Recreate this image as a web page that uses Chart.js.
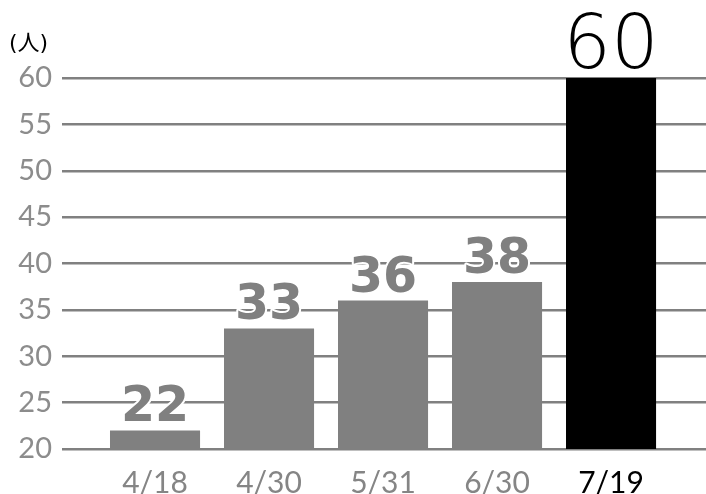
<!DOCTYPE html>
<html>
<head>
<meta charset="utf-8">
<script src="https://cdn.jsdelivr.net/npm/chart.js@4"></script>
<style>
  html, body { margin: 0; padding: 0; background: #fff; }
  #wrap { width: 706px; height: 494px; }
</style>
</head>
<body>
<div id="wrap"><canvas id="chart"></canvas></div>
<script>
const labels = ['4/18', '4/30', '5/31', '6/30', '7/19'];
const counts = [22, 33, 36, 38, 60];
const yTicks = [20, 25, 30, 35, 40, 45, 50, 55, 60];
const unitLabel = '(人)';

const FONT = "'DejaVu Sans', 'Noto Sans CJK JP', sans-serif";
const TICK_FONT = "Lato, 'DejaVu Sans', sans-serif";
const THIN = "'DejaVu Sans ExtraLight', 'DejaVu Sans', sans-serif";
const GRAY = '#808080';
const last = counts.length - 1;

const valueLabels = {
  id: 'valueLabels',
  afterDatasetsDraw(chart) {
    const ctx = chart.ctx;
    const bars = chart.getDatasetMeta(0).data;
    ctx.save();
    ctx.textAlign = 'center';
    ctx.textBaseline = 'alphabetic';
    bars.forEach((bar, i) => {
      const txt = String(counts[i]);
      if (i === last) {
        ctx.font = '200 75px ' + THIN;
        ctx.fillStyle = '#000';
        ctx.fillText(txt, bar.x, bar.y - 10);
      } else {
        ctx.font = 'bold 49px ' + FONT;
        ctx.lineJoin = 'round';
        ctx.lineWidth = 4;
        ctx.strokeStyle = '#fff';
        ctx.strokeText(txt, bar.x, bar.y - 9);
        ctx.fillStyle = GRAY;
        ctx.fillText(txt, bar.x, bar.y - 9);
      }
    });
    // unit label
    ctx.textAlign = 'left';
    ctx.textBaseline = 'middle';
    ctx.font = '22px ' + FONT;
    ctx.fillStyle = '#000';
    ctx.fillText(unitLabel, 9, 44);
    ctx.restore();
  }
};

new Chart(document.getElementById('chart'), {
  type: 'bar',
  data: {
    datasets: [{
      data: counts.map((v, i) => ({ x: i, y: v })),
      backgroundColor: counts.map((v, i) => i === last ? '#000000' : GRAY),
      categoryPercentage: 1,
      barPercentage: 0.79
    }]
  },
  options: {
    responsive: true,
    maintainAspectRatio: false,
    animation: false,
    layout: { padding: { top: 78, right: 0, bottom: 0, left: 0 } },
    plugins: { legend: { display: false }, tooltip: { enabled: false } },
    scales: {
      x: {
        type: 'linear',
        offset: false,
        min: -0.816,
        max: 4.833,
        grid: { display: false },
        border: { display: false },
        afterBuildTicks: (scale) => { scale.ticks = labels.map((_, i) => ({ value: i })); },
        afterFit: (scale) => { scale.height = 45; },
        ticks: {
          padding: 8,
          maxRotation: 0,
          autoSkip: false,
          font: { family: TICK_FONT, size: 30 },
          color: (c) => c.index === last ? '#000' : '#858585',
          callback: (v) => labels[v]
        }
      },
      y: {
        min: 20,
        max: 60,
        afterBuildTicks: (scale) => { scale.ticks = yTicks.map(v => ({ value: v })); },
        afterFit: (scale) => { scale.width = 62; },
        border: { display: false },
        grid: { color: GRAY, lineWidth: 2.5, drawTicks: false },
        ticks: {
          padding: 10,
          font: { family: TICK_FONT, size: 29 },
          color: '#8c8c8c'
        }
      }
    }
  },
  plugins: [valueLabels]
});
</script>
</body>
</html>
